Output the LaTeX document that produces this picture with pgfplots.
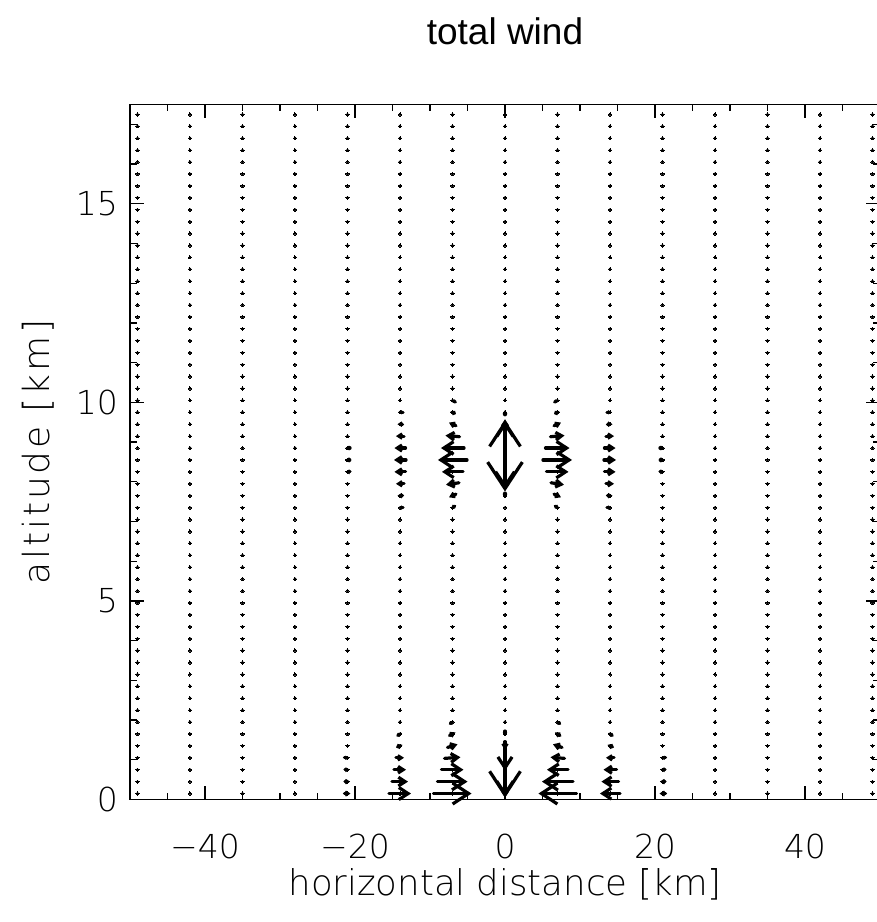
\documentclass[border=0pt]{standalone}
\usepackage{fontspec}
\setmainfont{DejaVu Sans ExtraLight}
\newfontfamily\titlefont{Liberation Sans}
\usepackage{pgfplots}
\usepackage{pgfplotstable}
\pgfplotsset{compat=1.18}
\usetikzlibrary{arrows.meta}

% wind vectors that are longer than a dot (x, z in km; u, v = arrow length in km)
\pgfplotstableread{
x y u v
-21 0.15 0.80 0
-21 0.45 0.67 0
-21 0.75 0.53 0
-21 1.05 0.40 0
-14 0.15 2.93 0
-14 0.45 2.13 0
-14 0.75 1.60 0
-14 1.05 1.07 0
-14 1.35 0.67 0.05
-14 1.65 0.40 0.05
-7 0.15 5.07 0
-7 0.45 4.00 0
-7 0.75 2.93 0
-7 1.05 2.13 0.03
-7 1.35 1.33 0.08
-7 1.65 0.80 0.08
-7 1.95 0.40 0.05
0 0.15 0 -0.20
0 0.45 0 -0.76
0 0.75 0 -1.41
0 1.05 0 -0.65
0 1.35 0 -0.20
0 1.65 0 -0.08
7 0.15 -5.07 0
7 0.45 -4.13 0
7 0.75 -2.80 0
7 1.05 -1.87 0.03
7 1.35 -1.20 0.08
7 1.65 -0.67 0.08
7 1.95 -0.40 0.05
14 0.15 -2.67 0
14 0.45 -2.27 0
14 0.75 -1.73 0
14 1.05 -1.07 0
14 1.35 -0.67 0.05
14 1.65 -0.40 0.05
21 0.15 -0.80 0
21 0.45 -0.67 0
21 0.75 -0.53 0
21 1.05 -0.40 0
-21 8.25 -0.53 0
-21 8.55 -0.60 0
-21 8.85 -0.53 0
-14 7.35 -0.40 0
-14 7.65 -0.67 0
-14 7.95 -1.07 0
-14 8.25 -1.47 0
-14 8.55 -1.60 0
-14 8.85 -1.47 0
-14 9.15 -1.07 0
-14 9.45 -0.67 0
-14 9.75 -0.40 0
-7 7.35 -0.40 -0.05
-7 7.65 -0.93 -0.08
-7 7.95 -1.73 -0.05
-7 8.25 -2.80 0
-7 8.55 -3.87 0
-7 8.85 -3.07 0
-7 9.15 -1.87 0.03
-7 9.45 -0.93 0.08
-7 9.75 -0.53 0.05
-7 10.05 -0.27 0.03
0 7.65 0 -0.10
0 7.95 0 -0.30
0 8.25 0 -0.86
0 8.55 0 -1.59
0 8.85 0 1.41
0 9.15 0 0.76
0 9.45 0 0.25
0 9.75 0 0.10
7 7.35 0.40 -0.05
7 7.65 0.93 -0.08
7 7.95 1.73 -0.05
7 8.25 2.93 0
7 8.55 3.87 0
7 8.85 3.20 0
7 9.15 1.87 0.03
7 9.45 0.93 0.08
7 9.75 0.53 0.05
7 10.05 0.27 0.03
14 7.35 0.40 0
14 7.65 0.67 0
14 7.95 1.07 0
14 8.25 1.47 0
14 8.55 1.60 0
14 8.85 1.47 0
14 9.15 1.07 0
14 9.45 0.67 0
14 9.75 0.40 0
21 8.25 0.53 0
21 8.55 0.60 0
21 8.85 0.53 0
}\windtable

\begin{document}
\begin{tikzpicture}
\begin{axis}[
  scale only axis, width=750pt, height=695pt,
  anchor=south west, at={(0pt,0pt)},
  xmin=-50, xmax=50, ymin=0, ymax=17.5,
  xtick={-40,-20,0,20,40}, xticklabels={−40,−20,0,20,40},
  minor xtick={-45,-35,-30,-25,-15,-10,-5,5,10,15,25,30,35,45},
  ytick={0,5,10,15}, yticklabels={0,5,10,15},
  minor ytick={1,2,3,4,6,7,8,9,11,12,13,14,16,17},
  major tick length=14pt, minor tick length=7pt,
  every tick/.style={black, line width=1.2pt},
  axis line style={line width=1.3pt},
  tick label style={font=\fontsize{33}{33}\selectfont, inner sep=0pt},
  xticklabel style={anchor=base, yshift=-58.5pt},
  yticklabel style={anchor=east, xshift=-12pt},
  xlabel={horizontal distance [km]},
  ylabel={altitude [km]},
  label style={inner sep=0pt},
  xlabel style={font=\fontsize{35.5}{36}\selectfont,
    at={([yshift=-96pt]axis description cs:0.5,0)}, anchor=base},
  ylabel style={font=\fontsize{36}{36}\selectfont\addfontfeature{LetterSpace=8},
    at={([xshift=-80pt]axis description cs:0,0.5)}, anchor=base},
  title={total wind},
  title style={font=\titlefont\fontsize{37}{37}\selectfont, inner sep=0pt,
    at={([yshift=54pt]axis description cs:0.5,1)}, anchor=base},
  clip=false,
]
% grid points of the wind field (weak vectors show as dots)
\addplot[only marks, mark=*, mark size=1.6pt, black, mark options={line width=0pt}] coordinates {
(-49,0.15) (-49,0.45) (-49,0.75) (-49,1.05) (-49,1.35) (-49,1.65) (-49,1.95) (-49,2.25) (-49,2.55) (-49,2.85) (-49,3.15) (-49,3.45) (-49,3.75) (-49,4.05) (-49,4.35) (-49,4.65) (-49,4.95) (-49,5.25) (-49,5.55) (-49,5.85) (-49,6.15) (-49,6.45) (-49,6.75) (-49,7.05) (-49,7.35) (-49,7.65) (-49,7.95) (-49,8.25) (-49,8.55) (-49,8.85) (-49,9.15) (-49,9.45) (-49,9.75) (-49,10.05) (-49,10.35) (-49,10.65) (-49,10.95) (-49,11.25) (-49,11.55) (-49,11.85) (-49,12.15) (-49,12.45) (-49,12.75) (-49,13.05) (-49,13.35) (-49,13.65) (-49,13.95) (-49,14.25) (-49,14.55) (-49,14.85) (-49,15.15) (-49,15.45) (-49,15.75) (-49,16.05) (-49,16.35) (-49,16.65) (-49,16.95) (-49,17.25)
(-42,0.15) (-42,0.45) (-42,0.75) (-42,1.05) (-42,1.35) (-42,1.65) (-42,1.95) (-42,2.25) (-42,2.55) (-42,2.85) (-42,3.15) (-42,3.45) (-42,3.75) (-42,4.05) (-42,4.35) (-42,4.65) (-42,4.95) (-42,5.25) (-42,5.55) (-42,5.85) (-42,6.15) (-42,6.45) (-42,6.75) (-42,7.05) (-42,7.35) (-42,7.65) (-42,7.95) (-42,8.25) (-42,8.55) (-42,8.85) (-42,9.15) (-42,9.45) (-42,9.75) (-42,10.05) (-42,10.35) (-42,10.65) (-42,10.95) (-42,11.25) (-42,11.55) (-42,11.85) (-42,12.15) (-42,12.45) (-42,12.75) (-42,13.05) (-42,13.35) (-42,13.65) (-42,13.95) (-42,14.25) (-42,14.55) (-42,14.85) (-42,15.15) (-42,15.45) (-42,15.75) (-42,16.05) (-42,16.35) (-42,16.65) (-42,16.95) (-42,17.25)
(-35,0.15) (-35,0.45) (-35,0.75) (-35,1.05) (-35,1.35) (-35,1.65) (-35,1.95) (-35,2.25) (-35,2.55) (-35,2.85) (-35,3.15) (-35,3.45) (-35,3.75) (-35,4.05) (-35,4.35) (-35,4.65) (-35,4.95) (-35,5.25) (-35,5.55) (-35,5.85) (-35,6.15) (-35,6.45) (-35,6.75) (-35,7.05) (-35,7.35) (-35,7.65) (-35,7.95) (-35,8.25) (-35,8.55) (-35,8.85) (-35,9.15) (-35,9.45) (-35,9.75) (-35,10.05) (-35,10.35) (-35,10.65) (-35,10.95) (-35,11.25) (-35,11.55) (-35,11.85) (-35,12.15) (-35,12.45) (-35,12.75) (-35,13.05) (-35,13.35) (-35,13.65) (-35,13.95) (-35,14.25) (-35,14.55) (-35,14.85) (-35,15.15) (-35,15.45) (-35,15.75) (-35,16.05) (-35,16.35) (-35,16.65) (-35,16.95) (-35,17.25)
(-28,0.15) (-28,0.45) (-28,0.75) (-28,1.05) (-28,1.35) (-28,1.65) (-28,1.95) (-28,2.25) (-28,2.55) (-28,2.85) (-28,3.15) (-28,3.45) (-28,3.75) (-28,4.05) (-28,4.35) (-28,4.65) (-28,4.95) (-28,5.25) (-28,5.55) (-28,5.85) (-28,6.15) (-28,6.45) (-28,6.75) (-28,7.05) (-28,7.35) (-28,7.65) (-28,7.95) (-28,8.25) (-28,8.55) (-28,8.85) (-28,9.15) (-28,9.45) (-28,9.75) (-28,10.05) (-28,10.35) (-28,10.65) (-28,10.95) (-28,11.25) (-28,11.55) (-28,11.85) (-28,12.15) (-28,12.45) (-28,12.75) (-28,13.05) (-28,13.35) (-28,13.65) (-28,13.95) (-28,14.25) (-28,14.55) (-28,14.85) (-28,15.15) (-28,15.45) (-28,15.75) (-28,16.05) (-28,16.35) (-28,16.65) (-28,16.95) (-28,17.25)
(-21,0.15) (-21,0.45) (-21,0.75) (-21,1.05) (-21,1.35) (-21,1.65) (-21,1.95) (-21,2.25) (-21,2.55) (-21,2.85) (-21,3.15) (-21,3.45) (-21,3.75) (-21,4.05) (-21,4.35) (-21,4.65) (-21,4.95) (-21,5.25) (-21,5.55) (-21,5.85) (-21,6.15) (-21,6.45) (-21,6.75) (-21,7.05) (-21,7.35) (-21,7.65) (-21,7.95) (-21,8.25) (-21,8.55) (-21,8.85) (-21,9.15) (-21,9.45) (-21,9.75) (-21,10.05) (-21,10.35) (-21,10.65) (-21,10.95) (-21,11.25) (-21,11.55) (-21,11.85) (-21,12.15) (-21,12.45) (-21,12.75) (-21,13.05) (-21,13.35) (-21,13.65) (-21,13.95) (-21,14.25) (-21,14.55) (-21,14.85) (-21,15.15) (-21,15.45) (-21,15.75) (-21,16.05) (-21,16.35) (-21,16.65) (-21,16.95) (-21,17.25)
(-14,0.15) (-14,0.45) (-14,0.75) (-14,1.05) (-14,1.35) (-14,1.65) (-14,1.95) (-14,2.25) (-14,2.55) (-14,2.85) (-14,3.15) (-14,3.45) (-14,3.75) (-14,4.05) (-14,4.35) (-14,4.65) (-14,4.95) (-14,5.25) (-14,5.55) (-14,5.85) (-14,6.15) (-14,6.45) (-14,6.75) (-14,7.05) (-14,7.35) (-14,7.65) (-14,7.95) (-14,8.25) (-14,8.55) (-14,8.85) (-14,9.15) (-14,9.45) (-14,9.75) (-14,10.05) (-14,10.35) (-14,10.65) (-14,10.95) (-14,11.25) (-14,11.55) (-14,11.85) (-14,12.15) (-14,12.45) (-14,12.75) (-14,13.05) (-14,13.35) (-14,13.65) (-14,13.95) (-14,14.25) (-14,14.55) (-14,14.85) (-14,15.15) (-14,15.45) (-14,15.75) (-14,16.05) (-14,16.35) (-14,16.65) (-14,16.95) (-14,17.25)
(-7,0.15) (-7,0.45) (-7,0.75) (-7,1.05) (-7,1.35) (-7,1.65) (-7,1.95) (-7,2.25) (-7,2.55) (-7,2.85) (-7,3.15) (-7,3.45) (-7,3.75) (-7,4.05) (-7,4.35) (-7,4.65) (-7,4.95) (-7,5.25) (-7,5.55) (-7,5.85) (-7,6.15) (-7,6.45) (-7,6.75) (-7,7.05) (-7,7.35) (-7,7.65) (-7,7.95) (-7,8.25) (-7,8.55) (-7,8.85) (-7,9.15) (-7,9.45) (-7,9.75) (-7,10.05) (-7,10.35) (-7,10.65) (-7,10.95) (-7,11.25) (-7,11.55) (-7,11.85) (-7,12.15) (-7,12.45) (-7,12.75) (-7,13.05) (-7,13.35) (-7,13.65) (-7,13.95) (-7,14.25) (-7,14.55) (-7,14.85) (-7,15.15) (-7,15.45) (-7,15.75) (-7,16.05) (-7,16.35) (-7,16.65) (-7,16.95) (-7,17.25)
(0,0.15) (0,0.45) (0,0.75) (0,1.05) (0,1.35) (0,1.65) (0,1.95) (0,2.25) (0,2.55) (0,2.85) (0,3.15) (0,3.45) (0,3.75) (0,4.05) (0,4.35) (0,4.65) (0,4.95) (0,5.25) (0,5.55) (0,5.85) (0,6.15) (0,6.45) (0,6.75) (0,7.05) (0,7.35) (0,7.65) (0,7.95) (0,8.25) (0,8.55) (0,8.85) (0,9.15) (0,9.45) (0,9.75) (0,10.05) (0,10.35) (0,10.65) (0,10.95) (0,11.25) (0,11.55) (0,11.85) (0,12.15) (0,12.45) (0,12.75) (0,13.05) (0,13.35) (0,13.65) (0,13.95) (0,14.25) (0,14.55) (0,14.85) (0,15.15) (0,15.45) (0,15.75) (0,16.05) (0,16.35) (0,16.65) (0,16.95) (0,17.25)
(7,0.15) (7,0.45) (7,0.75) (7,1.05) (7,1.35) (7,1.65) (7,1.95) (7,2.25) (7,2.55) (7,2.85) (7,3.15) (7,3.45) (7,3.75) (7,4.05) (7,4.35) (7,4.65) (7,4.95) (7,5.25) (7,5.55) (7,5.85) (7,6.15) (7,6.45) (7,6.75) (7,7.05) (7,7.35) (7,7.65) (7,7.95) (7,8.25) (7,8.55) (7,8.85) (7,9.15) (7,9.45) (7,9.75) (7,10.05) (7,10.35) (7,10.65) (7,10.95) (7,11.25) (7,11.55) (7,11.85) (7,12.15) (7,12.45) (7,12.75) (7,13.05) (7,13.35) (7,13.65) (7,13.95) (7,14.25) (7,14.55) (7,14.85) (7,15.15) (7,15.45) (7,15.75) (7,16.05) (7,16.35) (7,16.65) (7,16.95) (7,17.25)
(14,0.15) (14,0.45) (14,0.75) (14,1.05) (14,1.35) (14,1.65) (14,1.95) (14,2.25) (14,2.55) (14,2.85) (14,3.15) (14,3.45) (14,3.75) (14,4.05) (14,4.35) (14,4.65) (14,4.95) (14,5.25) (14,5.55) (14,5.85) (14,6.15) (14,6.45) (14,6.75) (14,7.05) (14,7.35) (14,7.65) (14,7.95) (14,8.25) (14,8.55) (14,8.85) (14,9.15) (14,9.45) (14,9.75) (14,10.05) (14,10.35) (14,10.65) (14,10.95) (14,11.25) (14,11.55) (14,11.85) (14,12.15) (14,12.45) (14,12.75) (14,13.05) (14,13.35) (14,13.65) (14,13.95) (14,14.25) (14,14.55) (14,14.85) (14,15.15) (14,15.45) (14,15.75) (14,16.05) (14,16.35) (14,16.65) (14,16.95) (14,17.25)
(21,0.15) (21,0.45) (21,0.75) (21,1.05) (21,1.35) (21,1.65) (21,1.95) (21,2.25) (21,2.55) (21,2.85) (21,3.15) (21,3.45) (21,3.75) (21,4.05) (21,4.35) (21,4.65) (21,4.95) (21,5.25) (21,5.55) (21,5.85) (21,6.15) (21,6.45) (21,6.75) (21,7.05) (21,7.35) (21,7.65) (21,7.95) (21,8.25) (21,8.55) (21,8.85) (21,9.15) (21,9.45) (21,9.75) (21,10.05) (21,10.35) (21,10.65) (21,10.95) (21,11.25) (21,11.55) (21,11.85) (21,12.15) (21,12.45) (21,12.75) (21,13.05) (21,13.35) (21,13.65) (21,13.95) (21,14.25) (21,14.55) (21,14.85) (21,15.15) (21,15.45) (21,15.75) (21,16.05) (21,16.35) (21,16.65) (21,16.95) (21,17.25)
(28,0.15) (28,0.45) (28,0.75) (28,1.05) (28,1.35) (28,1.65) (28,1.95) (28,2.25) (28,2.55) (28,2.85) (28,3.15) (28,3.45) (28,3.75) (28,4.05) (28,4.35) (28,4.65) (28,4.95) (28,5.25) (28,5.55) (28,5.85) (28,6.15) (28,6.45) (28,6.75) (28,7.05) (28,7.35) (28,7.65) (28,7.95) (28,8.25) (28,8.55) (28,8.85) (28,9.15) (28,9.45) (28,9.75) (28,10.05) (28,10.35) (28,10.65) (28,10.95) (28,11.25) (28,11.55) (28,11.85) (28,12.15) (28,12.45) (28,12.75) (28,13.05) (28,13.35) (28,13.65) (28,13.95) (28,14.25) (28,14.55) (28,14.85) (28,15.15) (28,15.45) (28,15.75) (28,16.05) (28,16.35) (28,16.65) (28,16.95) (28,17.25)
(35,0.15) (35,0.45) (35,0.75) (35,1.05) (35,1.35) (35,1.65) (35,1.95) (35,2.25) (35,2.55) (35,2.85) (35,3.15) (35,3.45) (35,3.75) (35,4.05) (35,4.35) (35,4.65) (35,4.95) (35,5.25) (35,5.55) (35,5.85) (35,6.15) (35,6.45) (35,6.75) (35,7.05) (35,7.35) (35,7.65) (35,7.95) (35,8.25) (35,8.55) (35,8.85) (35,9.15) (35,9.45) (35,9.75) (35,10.05) (35,10.35) (35,10.65) (35,10.95) (35,11.25) (35,11.55) (35,11.85) (35,12.15) (35,12.45) (35,12.75) (35,13.05) (35,13.35) (35,13.65) (35,13.95) (35,14.25) (35,14.55) (35,14.85) (35,15.15) (35,15.45) (35,15.75) (35,16.05) (35,16.35) (35,16.65) (35,16.95) (35,17.25)
(42,0.15) (42,0.45) (42,0.75) (42,1.05) (42,1.35) (42,1.65) (42,1.95) (42,2.25) (42,2.55) (42,2.85) (42,3.15) (42,3.45) (42,3.75) (42,4.05) (42,4.35) (42,4.65) (42,4.95) (42,5.25) (42,5.55) (42,5.85) (42,6.15) (42,6.45) (42,6.75) (42,7.05) (42,7.35) (42,7.65) (42,7.95) (42,8.25) (42,8.55) (42,8.85) (42,9.15) (42,9.45) (42,9.75) (42,10.05) (42,10.35) (42,10.65) (42,10.95) (42,11.25) (42,11.55) (42,11.85) (42,12.15) (42,12.45) (42,12.75) (42,13.05) (42,13.35) (42,13.65) (42,13.95) (42,14.25) (42,14.55) (42,14.85) (42,15.15) (42,15.45) (42,15.75) (42,16.05) (42,16.35) (42,16.65) (42,16.95) (42,17.25)
(49,0.15) (49,0.45) (49,0.75) (49,1.05) (49,1.35) (49,1.65) (49,1.95) (49,2.25) (49,2.55) (49,2.85) (49,3.15) (49,3.45) (49,3.75) (49,4.05) (49,4.35) (49,4.65) (49,4.95) (49,5.25) (49,5.55) (49,5.85) (49,6.15) (49,6.45) (49,6.75) (49,7.05) (49,7.35) (49,7.65) (49,7.95) (49,8.25) (49,8.55) (49,8.85) (49,9.15) (49,9.45) (49,9.75) (49,10.05) (49,10.35) (49,10.65) (49,10.95) (49,11.25) (49,11.55) (49,11.85) (49,12.15) (49,12.45) (49,12.75) (49,13.05) (49,13.35) (49,13.65) (49,13.95) (49,14.25) (49,14.55) (49,14.85) (49,15.15) (49,15.45) (49,15.75) (49,16.05) (49,16.35) (49,16.65) (49,16.95) (49,17.25)
};
% arrows centred on their grid point, head size follows arrow length
\addplot[black, line width=3.2pt, line cap=round, line join=round,
  point meta={sqrt((7.5*\thisrow{u})^2+(39.71*\thisrow{v})^2)},
  point meta min=0, point meta max=1000,
  quiver={u=\thisrow{u}, v=\thisrow{v},
    every arrow/.append style={line width=3.2pt, -{Straight Barb[length=0.42*\pgfplotspointmetatransformed pt, width=0.55*\pgfplotspointmetatransformed pt]}}}]
  table[x expr=\thisrow{x}-0.5*\thisrow{u}, y expr=\thisrow{y}-0.5*\thisrow{v}] {\windtable};
\end{axis}
\pgfresetboundingbox
\useasboundingbox (-130pt,-122.5pt) rectangle (747pt,799.5pt);
\end{tikzpicture}
\end{document}
